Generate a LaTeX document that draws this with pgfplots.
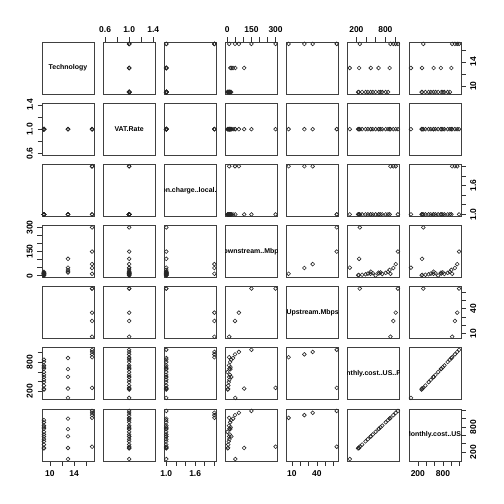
\documentclass[border=0pt]{standalone}
\usepackage{fontspec}
\setmainfont{Liberation Sans}
\usepackage{pgfplots}
\pgfplotsset{compat=1.18}
\usepackage{pgfplotstable}

\pgfplotstableread{
v1 v2 v3 v4 v5 v6 v7
17 1 1 300 64 271 330
17 1 1 150 64 1060 1185
17 1 2 72 35 1015 1140
17 1 2 48 25 965 1085
17 1 2 12 6 905 1020
13 1 1 105 nan 257 300
13 1 1 50 nan 63 35
13 1 1 36 nan 888 1001
13 1 1 19 nan 659 751
13 1 1 25 nan 498 576
9 1 1 3 nan 236 290
9 1 1 5 nan 250 305
9 1 1 6 nan 319 381
9 1 1 9 nan 390 458
9 1 1 13 nan 438 510
9 1 1 12 nan 494 572
9 1 1 16 nan 540 622
9 1 1 1 nan 598 685
9 1 1 14 nan 667 760
9 1 1 20 nan 700 796
9 1 1 11 nan 736 835
9 1 1 18 nan 807 913
9 1 1 24 nan 855 965
}\spmdata

\expandafter\def\csname spmlab1\endcsname{Technology}
\expandafter\def\csname spmlab2\endcsname{VAT.Rate}
\expandafter\def\csname spmlab3\endcsname{Installation.charge..local.currency.}
\expandafter\def\csname spmlab4\endcsname{Downstream..Mbps.}
\expandafter\def\csname spmlab5\endcsname{Upstream.Mbps}
\expandafter\def\csname spmlab6\endcsname{Monthly.cost..US..PPP.}
\expandafter\def\csname spmlab7\endcsname{Monthly.cost..US..}

\pgfplotsset{
  panel/.style={scale only axis, width=52bp, height=52bp, anchor=south west,
    axis line style={black!75, line width=0.75bp},
    xtick=\empty, ytick=\empty, tick align=outside, major tick length=4.5bp,
    every tick/.style={black!80, line width=0.6bp},
    xticklabel shift=3bp, yticklabel shift=3bp,
    tick label style={font=\fontsize{8.5}{9}\selectfont\bfseries, inner sep=1.5bp}},
  xv1/.style={xmin=8.68,xmax=17.32}, yv1/.style={ymin=8.68,ymax=17.32},
  xv2/.style={xmin=0.568,xmax=1.432}, yv2/.style={ymin=0.568,ymax=1.432},
  xv3/.style={xmin=0.96,xmax=2.04}, yv3/.style={ymin=0.96,ymax=2.04},
  xv4/.style={xmin=-10.96,xmax=311.96}, yv4/.style={ymin=-10.96,ymax=311.96},
  xv5/.style={xmin=3.68,xmax=66.32}, yv5/.style={ymin=3.68,ymax=66.32},
  xv6/.style={xmin=23.12,xmax=1099.88}, yv6/.style={ymin=23.12,ymax=1099.88},
  xv7/.style={xmin=-11,xmax=1231}, yv7/.style={ymin=-11,ymax=1231},
  xt1/.style={xtick={10,12,14,16}, xticklabels={10,,14,}},
  yt1/.style={ytick={10,12,14,16}, yticklabels={10,,14,}},
  xt2/.style={xtick={0.6,0.8,1.0,1.2,1.4}, xticklabels={0.6,,1.0,,1.4}},
  yt2/.style={ytick={0.6,0.8,1.0,1.2,1.4}, yticklabels={0.6,,1.0,,1.4}},
  xt3/.style={xtick={1.0,1.2,1.4,1.6,1.8,2.0}, xticklabels={1.0,,,1.6,,}},
  yt3/.style={ytick={1.0,1.2,1.4,1.6,1.8,2.0}, yticklabels={1.0,,,1.6,,}},
  xt4/.style={xtick={0,50,100,150,200,250,300}, xticklabels={0,,,150,,,300}},
  yt4/.style={ytick={0,50,100,150,200,250,300}, yticklabels={0,,,150,,,300}},
  xt5/.style={xtick={10,20,30,40,50,60}, xticklabels={10,,,40,,}},
  yt5/.style={ytick={10,20,30,40,50,60}, yticklabels={10,,,40,,}},
  xt6/.style={xtick={200,400,600,800,1000}, xticklabels={200,,,800,}},
  yt6/.style={ytick={200,400,600,800,1000}, yticklabels={200,,,800,}},
  xt7/.style={xtick={200,400,600,800,1000,1200}, xticklabels={200,,,800,,}},
  yt7/.style={ytick={200,400,600,800,1000,1200}, yticklabels={200,,,800,,}},
}

\newcommand\spmlabel[1]{\begin{scope}\clip (rel axis cs:0,0) rectangle (rel axis cs:1,1);
  \node[font=\fontsize{7}{8}\selectfont\bfseries, inner sep=0pt] at (rel axis cs:0.5,0.5) {\csname spmlab#1\endcsname};\end{scope}}

\newcommand\spmpanel[2]{%
  \pgfplotsset{cur/.style={}}%
  \ifnum#1=1 \ifodd#2 \else
    \pgfplotsset{cur/.append style={xt#2, xtick pos=right, xticklabel pos=right, xticklabel style={anchor=south}}}\fi\fi
  \ifnum#1=7 \ifodd#2
    \pgfplotsset{cur/.append style={xt#2, xtick pos=left, xticklabel pos=left, xticklabel style={anchor=north}}}\fi\fi
  \ifnum#2=1 \ifodd#1 \else
    \pgfplotsset{cur/.append style={yt#1, ytick pos=left, yticklabel pos=left, yticklabel style={rotate=90, anchor=south}}}\fi\fi
  \ifnum#2=7 \ifodd#1
    \pgfplotsset{cur/.append style={yt#1, ytick pos=right, yticklabel pos=right, yticklabel style={rotate=90, anchor=north}}}\fi\fi
  \begin{axis}[panel, at={({42bp+61.1667bp*(#2-1)},{410bp-61.1667bp*(#1-1)})}, xv#2, yv#1, cur]
    \ifnum#1=#2 \spmlabel{#2}\else
    \addplot[only marks, mark=o, mark size=1.9bp, black!85, mark options={line width=0.6bp}] table[x=v#2, y=v#1]{\spmdata};\fi
  \end{axis}%
}

\begin{document}
\begin{tikzpicture}
\path (0,0) rectangle (504bp,504bp);
\spmpanel{1}{1}\spmpanel{1}{2}\spmpanel{1}{3}\spmpanel{1}{4}\spmpanel{1}{5}\spmpanel{1}{6}\spmpanel{1}{7}
\spmpanel{2}{1}\spmpanel{2}{2}\spmpanel{2}{3}\spmpanel{2}{4}\spmpanel{2}{5}\spmpanel{2}{6}\spmpanel{2}{7}
\spmpanel{3}{1}\spmpanel{3}{2}\spmpanel{3}{3}\spmpanel{3}{4}\spmpanel{3}{5}\spmpanel{3}{6}\spmpanel{3}{7}
\spmpanel{4}{1}\spmpanel{4}{2}\spmpanel{4}{3}\spmpanel{4}{4}\spmpanel{4}{5}\spmpanel{4}{6}\spmpanel{4}{7}
\spmpanel{5}{1}\spmpanel{5}{2}\spmpanel{5}{3}\spmpanel{5}{4}\spmpanel{5}{5}\spmpanel{5}{6}\spmpanel{5}{7}
\spmpanel{6}{1}\spmpanel{6}{2}\spmpanel{6}{3}\spmpanel{6}{4}\spmpanel{6}{5}\spmpanel{6}{6}\spmpanel{6}{7}
\spmpanel{7}{1}\spmpanel{7}{2}\spmpanel{7}{3}\spmpanel{7}{4}\spmpanel{7}{5}\spmpanel{7}{6}\spmpanel{7}{7}
\end{tikzpicture}
\end{document}
